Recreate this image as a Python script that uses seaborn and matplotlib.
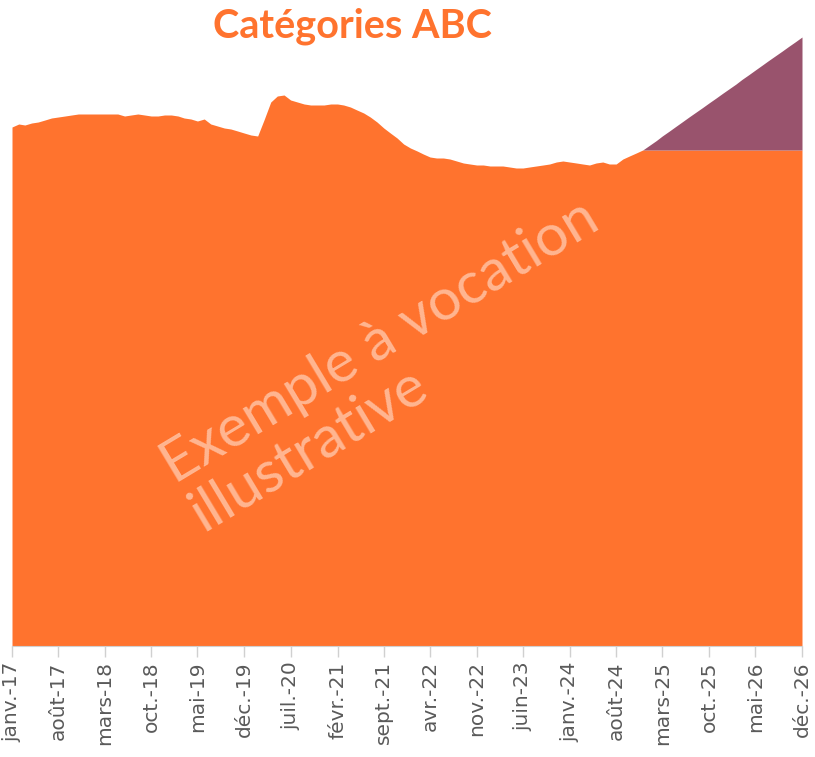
import pandas as pd
import numpy as np
import matplotlib.pyplot as plt
import seaborn as sns

sns.set_style("white")
plt.rcParams['font.family'] = ['DejaVu Sans']

# monthly data, janv. 2017 -> déc. 2026
months = pd.date_range("2017-01-01", "2026-12-01", freq="MS")

base = [519, 522, 521, 523, 524, 526, 528, 529, 530, 531, 532, 532,
        532, 532, 532, 532, 532, 530, 531, 532, 531, 530, 530, 531,
        531, 530, 528, 527, 525, 527, 522, 520, 518, 517, 515, 513,
        511, 510, 526, 544, 550, 551, 546, 544, 542, 541, 541, 541,
        542, 542, 541, 539, 536, 533, 529, 524, 518, 513, 508, 502,
        498, 495, 492, 489, 488, 488, 487, 485, 483, 482, 481, 481,
        480, 480, 480, 479, 478, 478, 479, 480, 481, 482, 484, 485,
        484, 483, 482, 481, 483, 484, 482, 482, 487, 490, 493, 496,
        496, 496, 496, 496, 496, 496, 496, 496, 496, 496, 496, 496,
        496, 496, 496, 496, 496, 496, 496, 496, 496, 496, 496, 496]

extra = [0] * 95 + [0, 4.7, 9.4, 14.1, 18.8, 23.5, 28.3, 33.0, 37.7, 42.4,
                    47.1, 51.8, 56.5, 61.2, 65.9, 70.6, 75.3, 80.0, 84.8,
                    89.5, 94.2, 98.9, 103.6, 108.3, 113.0]

tick_labels = ['janv.-17', 'août-17', 'mars-18', 'oct.-18', 'mai-19', 'déc.-19',
               'juil.-20', 'févr.-21', 'sept.-21', 'avr.-22', 'nov.-22', 'juin-23',
               'janv.-24', 'août-24', 'mars-25', 'oct.-25', 'mai-26', 'déc.-26']

orange = '#FF732E'
purple = '#99536D'

df = pd.DataFrame({'date': months, 'base': base, 'extra': extra})

fig = plt.figure(figsize=(8.15, 7.57), dpi=100)
ax = fig.add_axes([12 / 815, 111 / 757, 790 / 815, 616 / 757])

ax.stackplot(df['date'], df['base'], df['extra'], colors=[orange, purple],
             linewidth=0)

ax.set_xlim(months[0], months[-1])
ax.set_ylim(0, 616)
ax.set_yticks([])
ax.set_xticks(months[::7])
ax.set_xticklabels(tick_labels, rotation=90, fontsize=14.5, color='#5a5a5a')
ax.tick_params(axis='x', length=8, width=1, color='#d0d0d0', bottom=True, pad=3)
for s in ['top', 'left', 'right']:
    ax.spines[s].set_visible(False)
ax.spines['bottom'].set_color('#d0d0d0')
ax.set_xlabel('')
ax.set_ylabel('')

fig.text(352 / 815, 1 - 26 / 757, 'Catégories ABC', ha='center', va='center',
         fontsize=28.5, fontweight='bold', color=orange, family=['Lato', 'DejaVu Sans'])

ax.text(0.484, 0.455, 'Exemple à vocation\nillustrative', transform=ax.transAxes,
        ha='center', va='center', multialignment='left', rotation=31,
        fontsize=42, color='white', alpha=0.48,
        family=['Lato', 'DejaVu Sans'], linespacing=1.05)

plt.savefig("out.png", dpi=100)
